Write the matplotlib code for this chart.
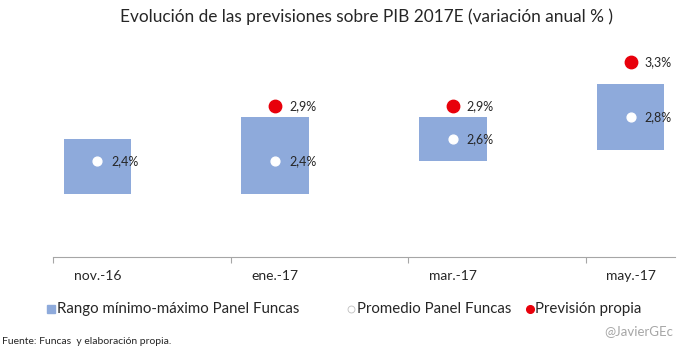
import matplotlib.pyplot as plt
from matplotlib.lines import Line2D

plt.rcParams['font.family'] = ['Lato', 'DejaVu Sans']

periods = ["nov.-16", "ene.-17", "mar.-17", "may.-17"]
range_min = [2.1, 2.1, 2.4, 2.5]
range_max = [2.6, 2.8, 2.8, 3.1]
panel_avg = [2.4, 2.4, 2.6, 2.8]
own_periods = [1, 2, 3]
own_forecast = [2.9, 2.9, 3.3]
legend_labels = ["Rango mínimo-máximo Panel Funcas", "Promedio Panel Funcas", "Previsión propia"]

BAR_COLOR = "#8eaadb"
RED = "#e8000b"
TEXT = "#262626"

fig = plt.figure(figsize=(7, 3.52), dpi=100)
ax = fig.add_axes([53 / 700, 95 / 352, 622 / 700, 216.7 / 352])

x = list(range(len(periods)))
heights = [hi - lo for lo, hi in zip(range_min, range_max)]
ax.bar(x, heights, bottom=range_min, width=0.38, color=BAR_COLOR, zorder=1)

ax.scatter(x, panel_avg, s=40, color="white", zorder=3)
for xi, v in zip(x, panel_avg):
    ax.annotate(f"{v:.1f}%".replace(".", ","), (xi, v), xytext=(10, 0),
                textcoords="offset points", va="center", ha="left",
                fontsize=9, color=TEXT)

ax.scatter(own_periods, own_forecast, s=80, color=RED, zorder=3)
for xi, v in zip(own_periods, own_forecast):
    ax.annotate(f"{v:.1f}%".replace(".", ","), (xi, v), xytext=(10, 0),
                textcoords="offset points", va="center", ha="left",
                fontsize=9, color=TEXT)

ax.set_xlim(-0.25, 3.25)
ax.set_ylim(1.53, 3.5)
for s in ["top", "right", "left"]:
    ax.spines[s].set_visible(False)
ax.spines["bottom"].set_color("#a6a6a6")
ax.set_yticks([])
ax.set_xticks([-0.25, 0.75, 1.75, 2.75])
ax.set_xticklabels([])
ax.tick_params(axis="x", length=4, color="#a6a6a6", direction="out")
for xi, lab in zip(x, periods):
    ax.text(xi, -0.06, lab, transform=ax.get_xaxis_transform(),
            ha="center", va="top", fontsize=10, color=TEXT)

fig.text(366 / 700, 1 - 17 / 352, "Evolución de las previsiones sobre PIB 2017E (variación anual % )",
         ha="center", va="center", fontsize=12.4, color=TEXT)

# legend drawn by hand so the gaps match the original
leg_y = 1 - 309 / 352
fig.add_artist(Line2D([51.5 / 700], [leg_y], marker="s", markersize=5.5, linestyle="none",
                      color=BAR_COLOR, transform=fig.transFigure))
fig.add_artist(Line2D([351 / 700], [leg_y], marker="o", markersize=5, linestyle="none",
                      markerfacecolor="white", markeredgecolor="#bfbfbf", markeredgewidth=0.6,
                      transform=fig.transFigure))
fig.add_artist(Line2D([530 / 700], [leg_y], marker="o", markersize=5.5, linestyle="none",
                      color=RED, transform=fig.transFigure))
for x0, lab in zip([57, 357, 535], legend_labels):
    fig.text(x0 / 700, leg_y, lab, ha="left", va="center", fontsize=10.8, color=TEXT)

fig.text(2 / 700, 1 - 342 / 352, "Fuente: Funcas  y elaboración propia.",
         ha="left", va="center", fontsize=7.5, color=TEXT)
fig.text(673 / 700, 1 - 331 / 352, "@JavierGEc", ha="right", va="center",
         fontsize=9.5, color="#a6a6a6")

fig.savefig("out.png", dpi=100)
